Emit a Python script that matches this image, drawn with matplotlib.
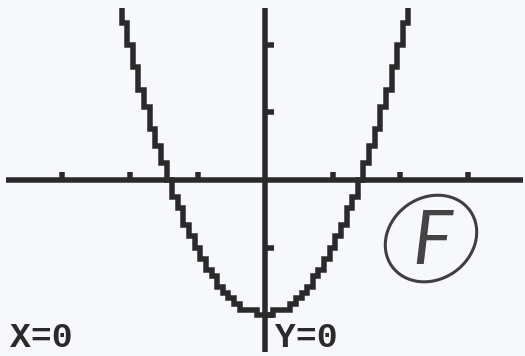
import numpy as np
import matplotlib
matplotlib.use("Agg")
import matplotlib.pyplot as plt
from matplotlib.patches import Ellipse

# Graph screen of y = x^2 - 2, plotted column by column (12 columns per unit)
col_index = np.arange(-26, 27)
x_cols = col_index / 12
y_cols = [2.67, 2.33, 2.00, 1.67, 1.33, 1.08, 0.75, 0.50, 0.25, 0.00,
          -0.25, -0.42, -0.67, -0.83, -1.00, -1.17, -1.33, -1.42, -1.58, -1.67,
          -1.75, -1.83, -1.92, -1.92, -1.92, -2.00,
          -2.00,
          -2.00, -1.92, -1.92, -1.92, -1.83, -1.75, -1.67, -1.58, -1.42,
          -1.33, -1.17, -1.00, -0.83, -0.67, -0.42, -0.25, 0.00, 0.25, 0.50,
          0.75, 1.08, 1.33, 1.67, 2.00, 2.33, 2.67]

x_ticks = [-3, -2, -1, 1, 2, 3]
y_ticks = [-2, -1, 1, 2]
x_range = (-3.837, 3.822)
y_range = (-2.548, 2.548)

trace_x_label = "X=0"
trace_y_label = "Y=0"
grade_mark = "F"

ink = "#2a2a2a"
paper = "#f6f8fb"
px = 0.72  # one screen pixel in points at dpi 100
dot = 5.5 * px  # one calculator pixel

fig = plt.figure(figsize=(5.25, 3.56), dpi=100, facecolor=paper)
ax = fig.add_axes([6 / 525, 4 / 356, 517 / 525, 344 / 356])
ax.set_facecolor(paper)
ax.set_xlim(*x_range)
ax.set_ylim(*y_range)

for side in ("top", "right"):
    ax.spines[side].set_visible(False)
for side in ("left", "bottom"):
    ax.spines[side].set_position(("data", 0))
    ax.spines[side].set_linewidth(dot)
    ax.spines[side].set_color(ink)
    ax.spines[side].set_capstyle("butt")

ax.set_xticks(x_ticks)
ax.set_yticks(y_ticks)
ax.tick_params(direction="in", length=8.5 * px, width=dot, color=ink,
               labelbottom=False, labelleft=False)

ax.plot(x_cols, y_cols, drawstyle="steps-mid", color=ink, lw=dot,
        solid_joinstyle="miter", solid_capstyle="butt", zorder=3)

# trace readout
label_style = dict(family="Liberation Mono", weight="bold", fontsize=25,
                   color=ink, va="baseline", ha="left")
fig.text(10 / 525, 9 / 356, trace_x_label, **label_style)
fig.text(275 / 525, 9 / 356, trace_y_label, **label_style)

# circled grade written on the printout
ax.add_patch(Ellipse((2.459, -0.867), 1.42, 1.21, angle=35, fill=False,
                     edgecolor="#3f3f3f", lw=2.2, zorder=4))
ax.text(2.47, -0.93, grade_mark, family="Lato", weight="normal", style="italic",
        fontsize=54, color="#444444", ha="center", va="center", zorder=4)

fig.savefig("out.png", dpi=100, facecolor=paper)
